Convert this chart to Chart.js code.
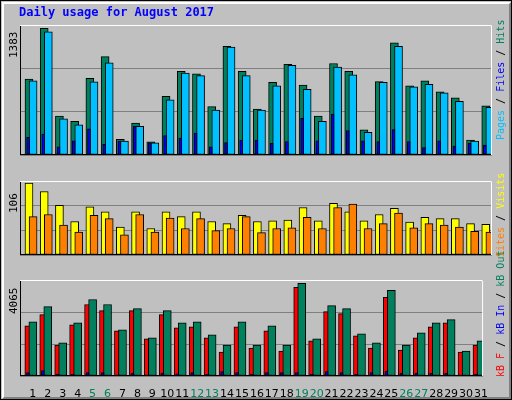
<!DOCTYPE html>
<html><head><meta charset="utf-8">
<script src="https://cdn.jsdelivr.net/npm/chart.js@4"></script>
<style>
body{margin:0;width:512px;height:400px;overflow:hidden;background:#c0c0c0}
#frame{position:absolute;left:0;top:0;width:510px;height:398px;border:1px solid #000;background:#c0c0c0}
#inner{position:absolute;left:1px;top:1px;width:505px;height:393px;border-left:2px solid #fff;border-top:2px solid #fff;border-right:2px solid #808080;border-bottom:2px solid #808080}
.p{position:absolute}
</style></head><body>
<div id="frame"><div id="inner"></div></div>
<canvas id="bg" width="512" height="400" style="position:absolute;left:0;top:0"></canvas>
<canvas id="c1" class="p" width="472" height="152" style="left:20px;top:25px;width:472px;height:152px"></canvas>
<canvas id="c2" class="p" width="472" height="96" style="left:20px;top:181px;width:472px;height:96px"></canvas>
<canvas id="c3" class="p" width="472" height="118" style="left:20px;top:280px;width:472px;height:118px"></canvas>
<script>
const days=[1,2,3,4,5,6,7,8,9,10,11,12,13,14,15,16,17,18,19,20,21,22,23,24,25,26,27,28,29,30,31];
const weekends=[5,6,12,13,19,20,26,27];
const hits=[808,1348,413,359,816,1046,167,340,139,625,891,863,515,1156,891,488,772,964,744,413,973,891,268,781,1193,735,790,671,607,158,524];
const files=[790,1310,385,321,779,981,148,304,130,588,872,845,478,1147,845,478,735,955,698,359,936,854,240,772,1156,726,753,662,570,148,506];
const pages=[188,222,87,151,279,114,148,304,130,206,179,234,87,133,160,160,124,142,389,151,435,261,151,142,270,142,78,151,96,124,105];
const visits=[103,91,71,48,69,62,40,62,38,62,55,62,48,45,57,48,49,50,68,49,74,62,49,58,67,47,54,52,52,45,44];
const sites=[55,58,43,33,57,52,29,58,33,53,38,52,35,38,55,32,38,39,54,38,68,73,38,45,60,39,45,43,40,34,33];
const kbF=[2127,2598,1314,2170,3026,2769,1913,2769,1571,2598,2042,2084,1614,1014,2084,1186,1913,1057,3754,1485,2726,2641,1699,1186,3326,1100,1614,2084,2256,1014,1314];
const kbOut=[2298,2940,1400,2256,3240,3026,1956,2855,1614,2769,2256,2298,1742,1314,2298,1314,2127,1314,3925,1571,2983,2855,1785,1400,3625,1314,1828,2256,2384,1057,1485];
const kbIn=[150,230,80,70,150,150,40,120,40,120,90,150,70,190,150,80,150,150,150,80,190,150,70,150,200,110,120,110,110,40,80];
const maxTop=1383, maxMid=106, maxBot=4065;
const title="Daily usage for August 2017";

const pts=(arr,off)=>arr.map((v,i)=>({x:days[i]+off,y:v}));
const ds=(arr,off,color,w,order)=>({data:pts(arr,off),backgroundColor:color,borderColor:'#000',borderWidth:1,barThickness:w,grouped:false,borderSkipped:false,order:order});
const frame={id:'frame',afterDraw(c){const a=c.chartArea,x=c.ctx;x.save();x.lineWidth=1;
 x.strokeStyle='#000';x.beginPath();x.moveTo(a.left+0.5,a.bottom);x.lineTo(a.left+0.5,a.top+0.5);x.stroke();
 x.beginPath();x.moveTo(a.left,a.bottom-0.5);x.lineTo(a.right,a.bottom-0.5);x.stroke();
 x.strokeStyle='#fff';x.beginPath();x.moveTo(a.left,a.top+0.5);x.lineTo(a.right-0.5,a.top+0.5);x.lineTo(a.right-0.5,a.bottom);x.stroke();x.restore();}};
function mk(id,sets,max,showX){
 return new Chart(document.getElementById(id),{type:'bar',data:{datasets:sets},plugins:[frame],
 options:{responsive:false,animation:false,devicePixelRatio:1,layout:{padding:0},
 plugins:{legend:{display:false},tooltip:{enabled:false}},
 scales:{x:{type:'linear',min:0.5,max:31.5,offset:false,display:showX,grid:{display:false},border:{display:false},
   afterBuildTicks:s=>{s.ticks=days.map(d=>({value:d+0.36}));},
   afterFit:s=>{s.height=22;},
   ticks:{autoSkip:false,maxRotation:0,padding:4,font:{family:'DejaVu Sans',size:11},
     color:c=>weekends.includes(days[c.index])?'#00805c':'#000',callback:(v,i)=>String(days[i])}},
  y:{min:0,max:max,afterBuildTicks:s=>{s.ticks=[0,max/3,2*max/3,max].map(v=>({value:v}));},
   afterFit:s=>{s.width=0;},
   ticks:{display:false},grid:{color:'#808080',drawTicks:false,lineWidth:1},border:{display:false}}}}});
}
mk('c1',[ds(hits,0.09,'#00805c',8,3),ds(files,0.36,'#00c0ff',8,2),ds(pages,0.03,'#0000ff',3,1)],maxTop,false);
mk('c2',[ds(visits,0.09,'#ffff00',8,2),ds(sites,0.36,'#ff8000',8,1)],maxMid,false);
mk('c3',[ds(kbF,0.09,'#ff0000',8,3),ds(kbOut,0.36,'#00805c',8,2),ds(kbIn,0.03,'#0000ff',3,1)],maxBot,true);

const g=document.getElementById('bg').getContext('2d');
g.font='bold 12px "DejaVu Sans Mono"';g.fillStyle='#0000ff';g.textBaseline='alphabetic';
g.fillText(title,19,16);
function vtext(x,y,parts,font){g.save();g.translate(x,y);g.rotate(-Math.PI/2);g.font=font;g.textBaseline='middle';let p=0;
 for(const [t,c] of parts){g.fillStyle=c;g.fillText(t,p,0);p+=g.measureText(t).width;}g.restore();}
const yf='11px "DejaVu Sans Mono"';
vtext(14,58,[[String(maxTop),'#000']],yf);
vtext(14,213,[[String(maxMid),'#000']],yf);
vtext(14,314,[[String(maxBot),'#000']],yf);
const rf='10px "DejaVu Sans Mono"';
vtext(501,140,[['Pages','#00c0ff'],[' / ','#000'],['Files','#0000ff'],[' / ','#000'],['Hits','#00805c']],rf);
vtext(501,257,[['Sites','#ff8000'],[' / ','#000'],['Visits','#ffff00']],rf);
vtext(501,377,[['kB F','#ff0000'],[' / ','#000'],['kB In','#0000ff'],[' / ','#000'],['kB Out','#00805c']],rf);
</script></body></html>
